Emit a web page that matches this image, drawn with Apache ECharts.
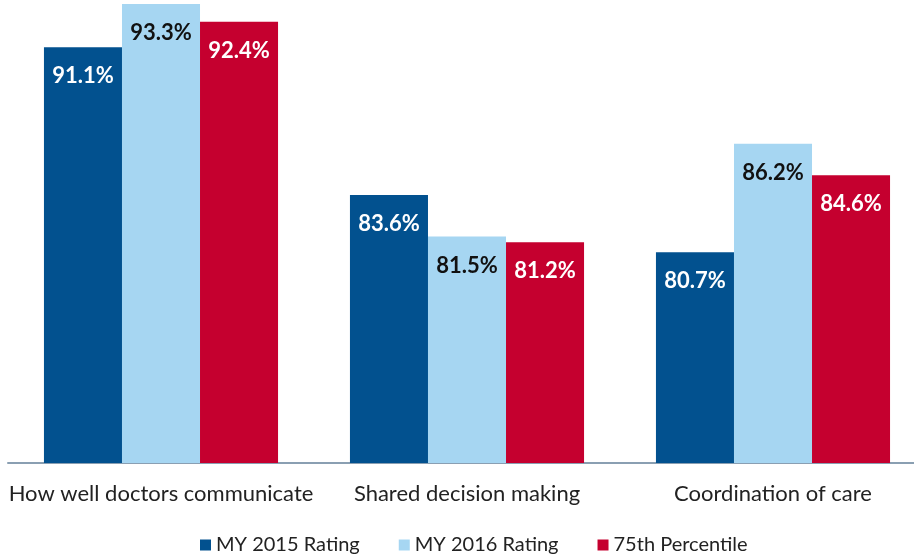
<!DOCTYPE html>
<html>
<head>
<meta charset="utf-8">
<title>Ratings</title>
<script src="https://cdn.jsdelivr.net/npm/echarts@6/dist/echarts.min.js"></script>
<style>
  html, body { margin: 0; padding: 0; background: #fff; }
  #chart { width: 914px; height: 556px; }
</style>
</head>
<body>
<div id="chart"></div>
<script>
  // data
  var categories = ['How well doctors communicate', 'Shared decision making', 'Coordination of care'];
  var seriesNames = ['MY 2015 Rating', 'MY 2016 Rating', '75th Percentile'];
  var rating2015 = [91.1, 83.6, 80.7];
  var rating2016 = [93.3, 81.5, 86.2];
  var percentile75 = [92.4, 81.2, 84.6];

  var colors = ['#02518f', '#a6d6f2', '#c5002f'];
  var labelColors = ['#ffffff', '#111111', '#ffffff'];
  var values = [rating2015, rating2016, percentile75];

  var font = 'Lato, "Open Sans", sans-serif';

  var series = seriesNames.map(function (name, i) {
    return {
      name: name,
      type: 'bar',
      data: values[i],
      barGap: '0%',
      barCategoryGap: '23.5%',
      itemStyle: { color: colors[i] },
      label: {
        show: true,
        position: 'insideTop',
        distance: 18,
        formatter: function (p) { return p.value.toFixed(1) + '%'; },
        color: labelColors[i],
        fontFamily: font,
        fontWeight: 'bold',
        fontSize: 22
      }
    };
  });

  var myChart = echarts.init(document.getElementById('chart'));
  var option = {
    animation: false,
    legend: {
      data: seriesNames,
      left: 195,
      top: 530,
      itemWidth: 11,
      itemHeight: 11,
      itemGap: 39,
      icon: 'rect',
      textStyle: { fontFamily: font, fontSize: 20, color: '#222' }
    },
    grid: { left: 8, width: 918, top: 0, bottom: 93, outerBoundsMode: 'none', containLabel: false },
    xAxis: {
      type: 'category',
      data: categories,
      axisTick: { show: false },
      axisLine: { lineStyle: { color: '#8a9fb2', width: 2 } },
      axisLabel: { fontFamily: font, fontSize: 22, color: '#222', margin: 20, interval: 0 }
    },
    yAxis: {
      type: 'value',
      min: 70,
      max: 93.5,
      show: false
    },
    series: series
  };
  myChart.setOption(option);
</script>
</body>
</html>
